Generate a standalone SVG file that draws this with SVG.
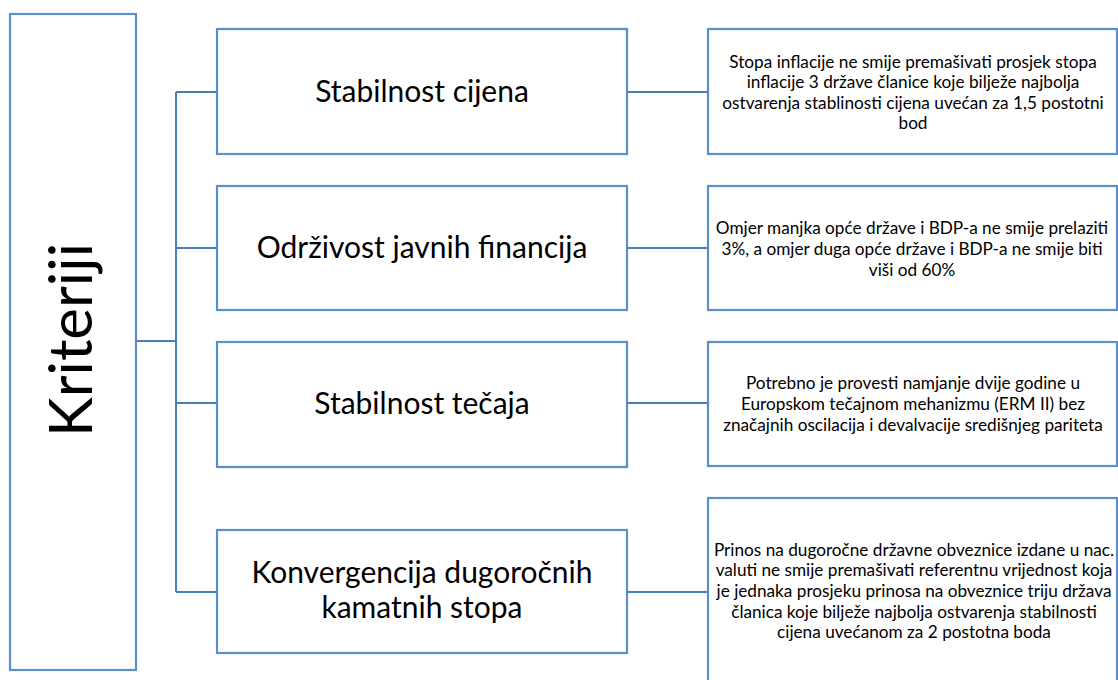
<svg xmlns="http://www.w3.org/2000/svg" width="1118" height="680" viewBox="0 0 1118 680">
<style>
.box{fill:#fff;stroke:#5B8FC7;stroke-width:2.2}
.con{fill:none;stroke:#4A7EBB;stroke-width:2}
text{font-family:Lato,"Liberation Sans",sans-serif;fill:#000;text-anchor:middle}
.big{font-size:30px}
.sm{font-size:17.2px}
.title{font-size:60px}
</style>
<rect width="1118" height="680" fill="#fff"/>
<g id="connectors">
<path class="con" d="M136 341H176M176 92V592M176 92H217M176 248H217M176 403H217M176 592H217"/>
<path class="con" d="M627 92H708M627 248H708M627 403H708M627 592H708"/>
</g>
<g id="kriteriji">
<rect class="box" x="10" y="14" width="126" height="656"/>
<text class="title" transform="translate(92,340) rotate(-90)" x="0" y="0">Kriteriji</text>
</g>
<g id="n1">
<rect class="box" x="217" y="29" width="410" height="125"/>
<text class="big" x="422" y="102">Stabilnost cijena</text>
</g>
<g id="n2">
<rect class="box" x="217" y="186" width="410" height="124"/>
<text class="big" x="422" y="258">Održivost javnih financija</text>
</g>
<g id="n3">
<rect class="box" x="217" y="342" width="410" height="125"/>
<text class="big" x="422" y="414">Stabilnost tečaja</text>
</g>
<g id="n4">
<rect class="box" x="217" y="530" width="410" height="123"/>
<text class="big" x="422" y="583">Konvergencija dugoročnih</text>
<text class="big" x="422" y="618">kamatnih stopa</text>
</g>
<g id="d1">
<rect class="box" x="708" y="29" width="409" height="125"/>
<text class="sm" x="913" y="68">Stopa inflacije ne smije premašivati prosjek stopa</text>
<text class="sm" x="913" y="88">inflacije 3 države članice koje bilježe najbolja</text>
<text class="sm" x="913" y="109">ostvarenja stablinosti cijena uvećan za 1,5 postotni</text>
<text class="sm" x="913" y="129">bod</text>
</g>
<g id="d2">
<rect class="box" x="708" y="186" width="409" height="124"/>
<text class="sm" x="912" y="234">Omjer manjka opće države i BDP-a ne smije prelaziti</text>
<text class="sm" x="912" y="255">3%, a omjer duga opće države i BDP-a ne smije biti</text>
<text class="sm" x="912" y="276">viši od 60%</text>
</g>
<g id="d3">
<rect class="box" x="708" y="342" width="409" height="124"/>
<text class="sm" x="913" y="389">Potrebno je provesti namjanje dvije godine u</text>
<text class="sm" x="913" y="410">Europskom tečajnom mehanizmu (ERM II) bez</text>
<text class="sm" x="913" y="431">značajnih oscilacija i devalvacije središnjeg pariteta</text>
</g>
<g id="d4">
<rect class="box" x="708" y="498" width="409" height="190"/>
<text class="sm" x="914" y="556">Prinos na dugoročne državne obveznice izdane u nac.</text>
<text class="sm" x="914" y="576">valuti ne smije premašivati referentnu vrijednost koja</text>
<text class="sm" x="914" y="597">je jednaka prosjeku prinosa na obveznice triju država</text>
<text class="sm" x="914" y="618">članica koje bilježe najbolja ostvarenja stabilnosti</text>
<text class="sm" x="914" y="638">cijena uvećanom za 2 postotna boda</text>
</g>
</svg>
